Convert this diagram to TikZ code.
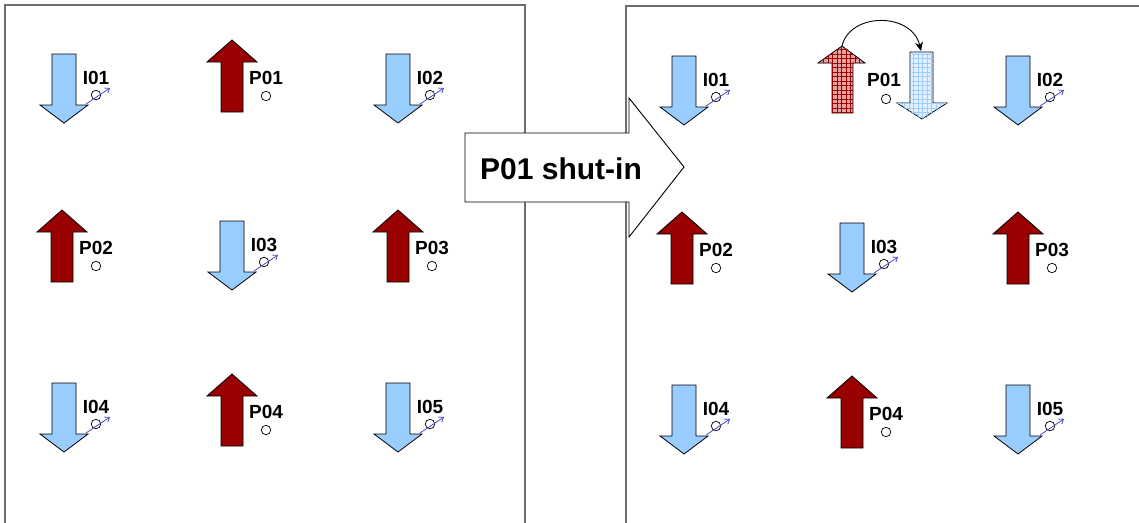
\documentclass[tikz,border=0pt]{standalone}
\usepackage{fontspec}
\setmainfont{Liberation Sans}
\usetikzlibrary{patterns.meta,arrows.meta}
\definecolor{prodred}{RGB}{153,0,0}
\definecolor{injblue}{RGB}{153,204,255}
\definecolor{symblue}{RGB}{70,70,200}
\definecolor{framegray}{RGB}{110,110,110}
\definecolor{hatchpink}{RGB}{232,160,160}
\definecolor{hatchblue}{RGB}{228,240,255}
\tikzset{
  x=1pt, y=-1pt,
  frame/.style={draw=framegray, line width=1.4pt},
  arrowshape/.style={draw=black, line width=0.8pt},
  welllabel/.style={font=\bfseries\fontsize{19}{19}\selectfont, inner sep=0pt},
  wellcircle/.style={draw=black, line width=0.7pt, circle, minimum size=9.5pt, inner sep=0pt},
  injsym/.style={draw=symblue, line width=0.8pt, -{Straight Barb[length=4pt,width=6pt]}},
  inj/.pic={
    \path[arrowshape, fill=injblue] (-12,0) -- (12,0) -- (12,51) -- (24,51) -- (0,69) -- (-24,51) -- (-12,51) -- cycle;
    \node[welllabel] (-lbl) at (32,24) {#1};
    \node[wellcircle] (-c) at (32,41) {};
    \coordinate (-s0) at (22,50);
    \coordinate (-s1) at (46,34);
    \draw[injsym] (-s0) -- (-s1);
  },
  prod/.pic={
    \path[arrowshape, fill=prodred] (0,0) -- (25,22) -- (11,22) -- (11,72) -- (-11,72) -- (-11,22) -- (-25,22) -- cycle;
    \node[welllabel] (-lbl) at (34,38) {#1};
    \node[wellcircle] (-c) at (34,56) {};
  },
  bigarrow/.style={draw=black, line width=0.9pt, fill=white},
  redhatch/.style={draw=black, line width=0.8pt, fill=hatchpink,
    postaction={pattern={Hatch[angle=0,distance=4.5pt,line width=0.5pt]}, pattern color=prodred}},
  bluehatch/.style={draw=black, line width=0.8pt, fill=hatchblue,
    postaction={pattern={Hatch[angle=0,distance=4.5pt,line width=0.5pt]}, pattern color=injblue}},
}
\begin{document}
\begin{tikzpicture}
\useasboundingbox[fill=white] (0,0) rectangle (1139,522);
% frames
\draw[frame] (5,523) -- (5,5) -- (525,5) -- (525,523);
\draw[frame] (626,523) -- (626,6) -- (1141,6);
% left panel
\pic (LI01) at (64,54) {inj=I01};
\pic (LP01) at (232,40) {prod=P01};
\pic (LI02) at (398,54) {inj=I02};
\pic (LP02) at (62,210) {prod=P02};
\pic (LI03) at (232,221) {inj=I03};
\pic (LP03) at (398,210) {prod=P03};
\pic (LI04) at (64,383) {inj=I04};
\pic (LP04) at (232,374) {prod=P04};
\pic (LI05) at (398,383) {inj=I05};
% right panel
\pic (RI01) at (684,56) {inj=I01};
\pic (RI02) at (1018,56) {inj=I02};
\pic (RP02) at (682,212) {prod=P02};
\pic (RI03) at (852,223) {inj=I03};
\pic (RP03) at (1018,212) {prod=P03};
\pic (RI04) at (684,385) {inj=I04};
\pic (RP04) at (852,376) {prod=P04};
\pic (RI05) at (1018,385) {inj=I05};
% converted P01
\path[redhatch] (842,46) -- (865,63) -- (853,63) -- (853,113) -- (832,113) -- (832,63) -- (818,63) -- cycle;
\path[bluehatch] (910,52) -- (933,52) -- (933,103) -- (947,103) -- (922,119) -- (897,103) -- (910,103) -- cycle;
\coordinate (uptip) at (842,46);
\coordinate (downtop) at (921,51);
\node[welllabel] (RP01-lbl) at (884,80) {P01};
\node[wellcircle] (RP01-c) at (886,99) {};
\draw[line width=0.9pt, -{Stealth[length=9pt,width=8pt]}] (uptip) .. controls (850,12) and (912,12) .. (downtop);
% big arrow
\path[bigarrow] (465,133) -- (629,133) -- (629,98) -- (684,167) -- (629,237) -- (629,202) -- (465,202) -- cycle;
\node[font=\bfseries\fontsize{30}{30}\selectfont, inner sep=0pt] (shut) at (561,169) {P01 shut-in};
\end{tikzpicture}
\end{document}
